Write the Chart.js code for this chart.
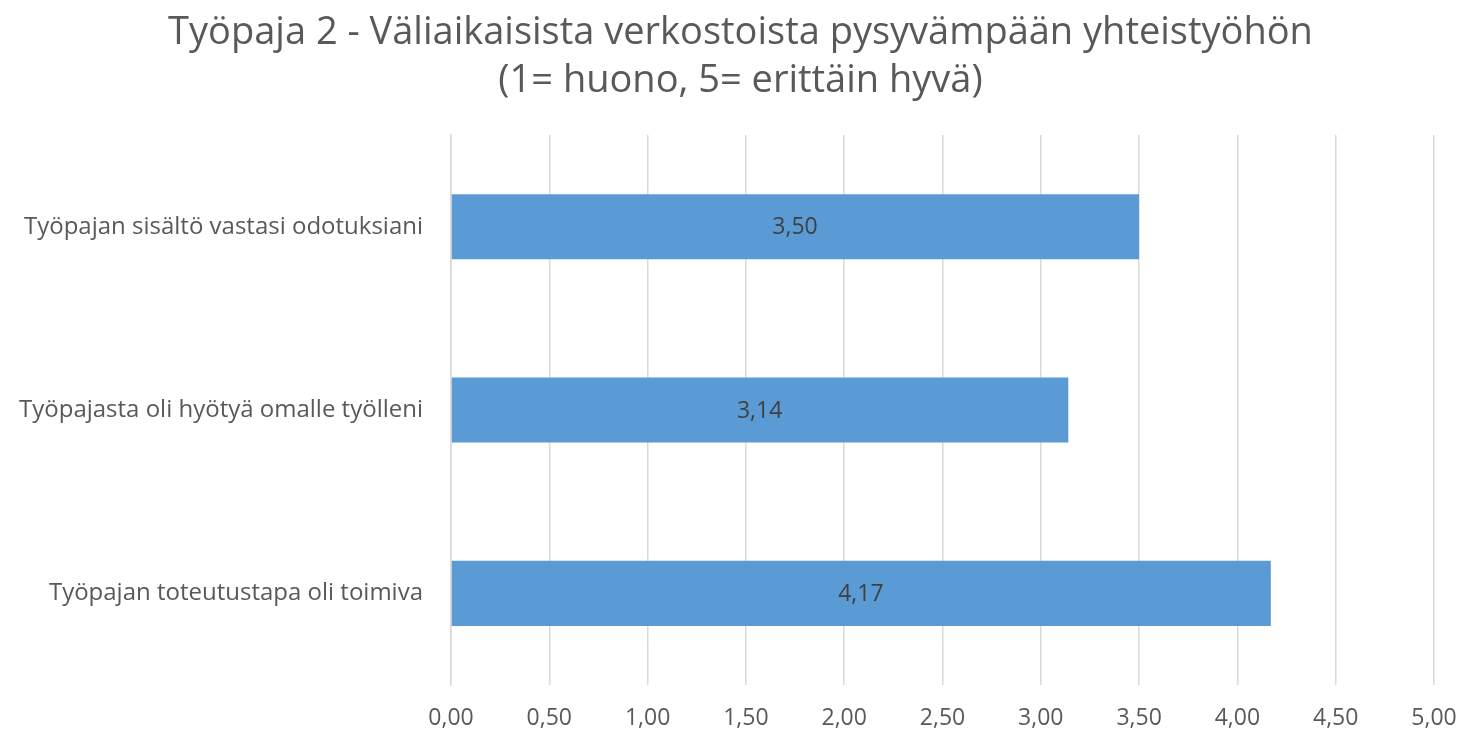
<!DOCTYPE html>
<html>
<head>
<meta charset="utf-8">
<script src="https://cdn.jsdelivr.net/npm/chart.js@4.4.0/dist/chart.umd.min.js"></script>
<style>
  html, body { margin: 0; padding: 0; background: #ffffff; }
  #wrap { width: 1481px; height: 736px; position: relative; }
</style>
</head>
<body>
<div id="wrap"><canvas id="c" width="1481" height="736"></canvas></div>
<script>
const titleLines = ["Työpaja 2 - Väliaikaisista verkostoista pysyvämpään yhteistyöhön", "(1= huono, 5= erittäin hyvä)"];
const categories = ["Työpajan sisältö vastasi odotuksiani", "Työpajasta oli hyötyä omalle työlleni", "Työpajan toteutustapa oli toimiva"];
const values = [3.50, 3.14, 4.17];
const axisMin = 0, axisMax = 5, axisStep = 0.5;

const FONT = "'Open Sans', 'Liberation Sans', sans-serif";
const fmt = v => Number(v).toFixed(2).replace('.', ',');

const valueLabels = {
  id: 'valueLabels',
  afterDatasetsDraw(chart) {
    const ctx = chart.ctx;
    const meta = chart.getDatasetMeta(0);
    ctx.save();
    ctx.font = "23px " + FONT;
    ctx.fillStyle = '#404040';
    ctx.textAlign = 'center';
    ctx.textBaseline = 'middle';
    meta.data.forEach((bar, i) => {
      const x0 = chart.scales.x.getPixelForValue(0);
      ctx.fillText(fmt(values[i]), (x0 + bar.x) / 2, bar.y + 1);
    });
    ctx.restore();
  }
};

const centeredTitle = {
  id: 'centeredTitle',
  afterDraw(chart) {
    const ctx = chart.ctx;
    ctx.save();
    ctx.font = "38px " + FONT;
    ctx.fillStyle = '#595959';
    ctx.textAlign = 'center';
    ctx.textBaseline = 'middle';
    titleLines.forEach((t, i) => ctx.fillText(t, chart.width / 2, 33 + i * 48));
    ctx.restore();
  }
};

new Chart(document.getElementById('c'), {
  type: 'bar',
  data: {
    labels: categories,
    datasets: [{
      data: values,
      backgroundColor: '#5B9BD5',
      borderWidth: 0,
      barPercentage: 0.355,
      categoryPercentage: 1.0
    }]
  },
  options: {
    indexAxis: 'y',
    responsive: false,
    animation: false,
    layout: { padding: { left: 0, right: 47, top: 135, bottom: 0 } },
    plugins: {
      legend: { display: false },
      tooltip: { enabled: false },
      title: { display: false }
    },
    scales: {
      x: {
        min: axisMin, max: axisMax,
        grid: { color: '#D9D9D9', lineWidth: 1.5, drawTicks: false },
        border: { display: false },
        ticks: {
          stepSize: axisStep,
          color: '#595959',
          font: { family: FONT, size: 23 },
          padding: 20,
          callback: v => fmt(v)
        },
        afterFit: s => { s.height = 51; }
      },
      y: {
        grid: { display: false, drawTicks: false },
        border: { display: true, color: '#D9D9D9', width: 1.5 },
        ticks: {
          color: '#595959',
          font: { family: FONT, size: 24 },
          padding: 28
        },
        afterFit: s => { s.width = 451; }
      }
    }
  },
  plugins: [valueLabels, centeredTitle]
});
</script>
</body>
</html>
